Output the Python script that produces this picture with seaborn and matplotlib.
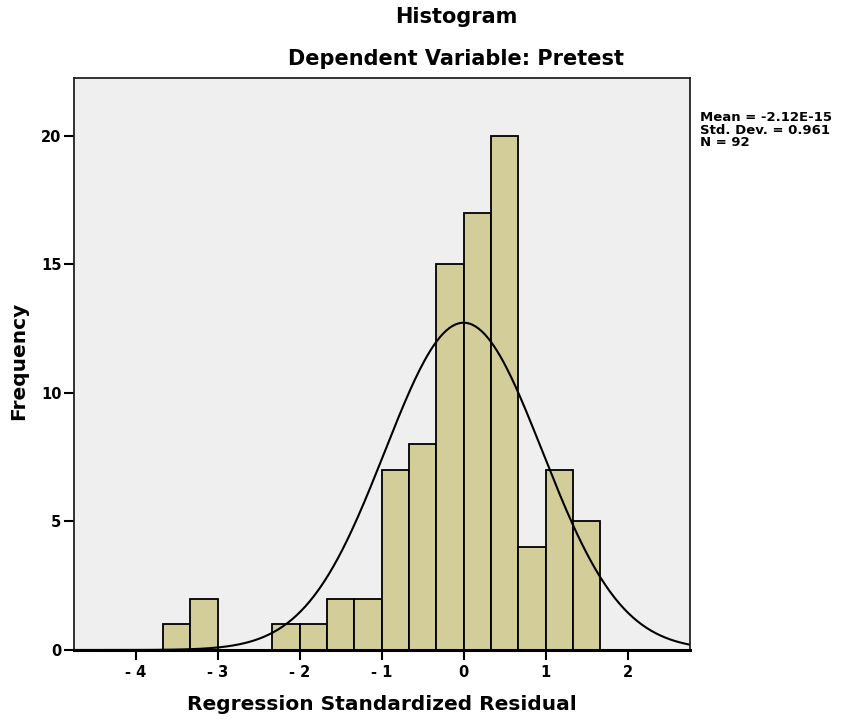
import numpy as np
import pandas as pd
import seaborn as sns
import matplotlib.pyplot as plt

# bins de ancho 1/3
bin_edges = [-11/3, -10/3, -3.0, -8/3, -7/3, -2.0, -5/3, -4/3, -1.0,
             -2/3, -1/3, 0.0, 1/3, 2/3, 1.0, 4/3, 5/3]
counts = [1, 2, 0, 0, 1, 1, 2, 2, 7, 8, 15, 17, 20, 4, 7, 5]
mean_val = -2.12e-15
std_val = 0.961
n_val = 92
x_ticks = [-4, -3, -2, -1, 0, 1, 2]
x_ticklabels = ['- 4', '- 3', '- 2', '- 1', '0', '1', '2']
y_ticks = [0, 5, 10, 15, 20]

sns.set_style('white')
plt.rcParams['font.family'] = ['DejaVu Sans']
plt.rcParams['font.weight'] = 'bold'
plt.rcParams['text.color'] = 'black'
plt.rcParams['axes.labelcolor'] = 'black'
plt.rcParams['xtick.color'] = 'black'
plt.rcParams['ytick.color'] = 'black'

centers = [(a + b) / 2 for a, b in zip(bin_edges[:-1], bin_edges[1:])]
df = pd.DataFrame({'residual': centers, 'count': counts})

fig = plt.figure(figsize=(8.48, 7.21), dpi=100)
ax = fig.add_axes([74/848, 71/721, (690-74)/848, (650-78)/721])
ax.set_facecolor('#efefef')

sns.histplot(data=df, x='residual', weights='count', bins=bin_edges,
             color='#d3ce99', alpha=1, edgecolor='black', linewidth=1.3, ax=ax)

# curva normal ajustada
bw = 1/3
xs = np.linspace(-4.75, 2.76, 400)
ys = n_val * bw * np.exp(-0.5 * ((xs - mean_val) / std_val) ** 2) / (std_val * np.sqrt(2 * np.pi))
sns.lineplot(x=xs, y=ys, color='black', linewidth=1.5, ax=ax)

ax.set_xlim(-4.75, 2.76)
ax.set_ylim(0, 22.25)
ax.set_xticks(x_ticks)
ax.set_xticklabels(x_ticklabels)
ax.set_yticks(y_ticks)
ax.tick_params(axis='both', direction='out', length=7.5, width=1.5, labelsize=10.5,
               bottom=True, left=True)
ax.tick_params(axis='y', pad=1.5)
ax.tick_params(axis='x', pad=3)
for lab in ax.get_xticklabels() + ax.get_yticklabels():
    lab.set_fontweight('bold')
for s in ['top', 'right', 'left']:
    ax.spines[s].set_color('#222222')
    ax.spines[s].set_linewidth(1.3)
ax.spines['bottom'].set_color('black')
ax.spines['bottom'].set_linewidth(2.2)

ax.set_xlabel('')
ax.set_ylabel('')
fig.text(382/848, 1 - 705/721, 'Regression Standardized Residual', ha='center', va='center',
         fontsize=14.5, fontweight='bold')
fig.text(19/848, 1 - 361/721, 'Frequency', ha='center', va='center', rotation=90,
         fontsize=14.5, fontweight='bold')

fig.text(456/848, 1 - 17/721, 'Histogram', ha='center', va='center', fontsize=15, fontweight='bold')
fig.text(456/848, 1 - 59/721, 'Dependent Variable: Pretest', ha='center', va='center',
         fontsize=15, fontweight='bold')
fig.text(700/848, 1 - 111/721,
         'Mean = -2.12E-15\nStd. Dev. = 0.961\nN = 92',
         ha='left', va='top', fontsize=9.5, fontweight='bold', linespacing=0.95)

fig.savefig('out.png', dpi=100)
